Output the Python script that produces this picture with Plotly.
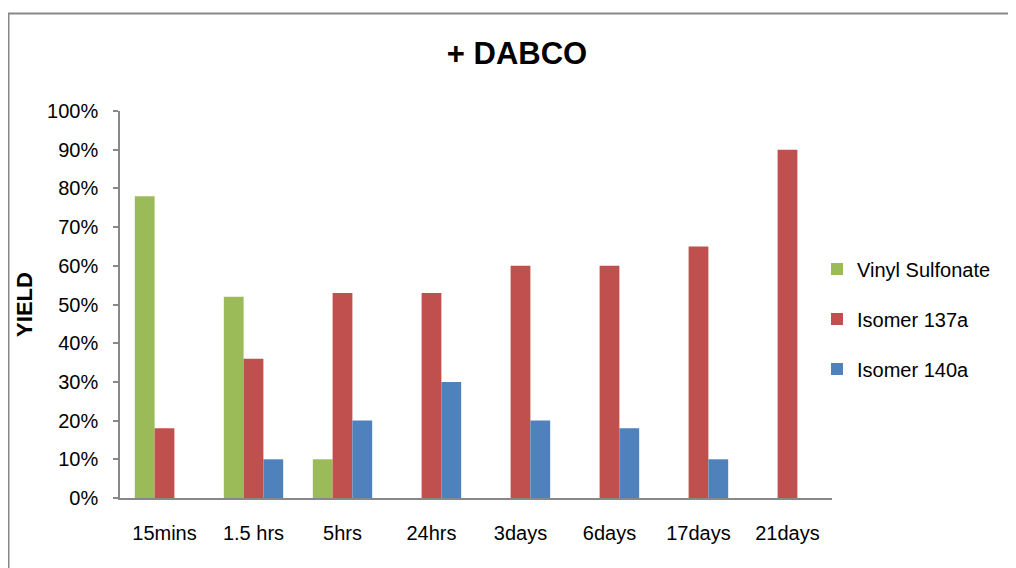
import plotly.graph_objects as go

# data (yield, %)
categories = ["15mins", "1.5 hrs", "5hrs", "24hrs", "3days", "6days", "17days", "21days"]
vinyl_sulfonate = [78, 52, 10, None, None, None, None, None]
isomer_137a = [18, 36, 53, 53, 60, 60, 65, 90]
isomer_140a = [None, 10, 20, 30, 20, 18, 10, None]

series_names = ["Vinyl Sulfonate", "Isomer 137a", "Isomer 140a"]
series_values = [vinyl_sulfonate, isomer_137a, isomer_140a]
series_colors = ["#9BBB59", "#C0504D", "#4F81BD"]

y_ticks = [0, 10, 20, 30, 40, 50, 60, 70, 80, 90, 100]
y_tick_labels = ["{}%".format(v) for v in y_ticks]

FONT = "Liberation Sans, Arial, sans-serif"

# the page body adds an 8px offset, so work in viewport pixels minus 8
OFF = 8
W, H = 1016 - OFF, 568 - OFF
L, T = 120 - OFF, 111 - OFF
R = W - (832 - OFF)
B = H - (498 - OFF)
pw, ph = W - L - R, H - T - B


def px_x(v):
    # viewport pixel -> paper x
    return (v - OFF - L) / pw


def px_y(v):
    # viewport pixel -> paper y
    return (H - B - (v - OFF)) / ph


fig = go.Figure()
for name, vals, col in zip(series_names, series_values, series_colors):
    fig.add_trace(go.Bar(
        x=categories, y=vals, name=name, legendgroup=name,
        marker=dict(color=col, line=dict(width=0)),
    ))

# outer chart border (gray frame, clipped by page edges)
fig.add_shape(
    type="rect", xref="paper", yref="paper",
    x0=px_x(8.5), x1=px_x(1040), y0=px_y(600), y1=px_y(13.5),
    line=dict(color="#878787", width=2), fillcolor="rgba(0,0,0,0)",
    layer="below",
)

fig.update_layout(
    width=W, height=H,
    margin=dict(l=L, r=R, t=T, b=B, autoexpand=False),
    paper_bgcolor="white", plot_bgcolor="white",
    barmode="group", bargap=0.333, bargroupgap=0,
    font=dict(family=FONT, size=20, color="black"),
    title=dict(
        text="<b>+ DABCO</b>", x=(517 - OFF) / W, xanchor="center",
        y=1 - (53 - OFF) / H, yanchor="middle", yref="container",
        font=dict(family=FONT, size=31, color="black"),
    ),
    legend=dict(
        x=px_x(817), xanchor="left", y=px_y(319), yanchor="middle",
        traceorder="grouped", tracegroupgap=21,
        font=dict(family=FONT, size=20, color="black"),
        bgcolor="rgba(0,0,0,0)",
    ),
    showlegend=True,
)

fig.update_xaxes(
    showline=True, linecolor="#888888", linewidth=1.5,
    showgrid=False, ticks="", ticklabelstandoff=16,
    tickfont=dict(size=20),
)
fig.update_yaxes(
    range=[0, 100], tickvals=y_ticks, ticktext=y_tick_labels,
    showline=True, linecolor="#888888", linewidth=1.5,
    showgrid=False, zeroline=False,
    ticks="outside", ticklen=5, tickcolor="#888888", tickwidth=1.5,
    ticklabelstandoff=11, tickfont=dict(size=20),
    title=dict(text="<b>YIELD</b>", font=dict(family=FONT, size=22), standoff=8),
)

fig.write_html("out.html")
